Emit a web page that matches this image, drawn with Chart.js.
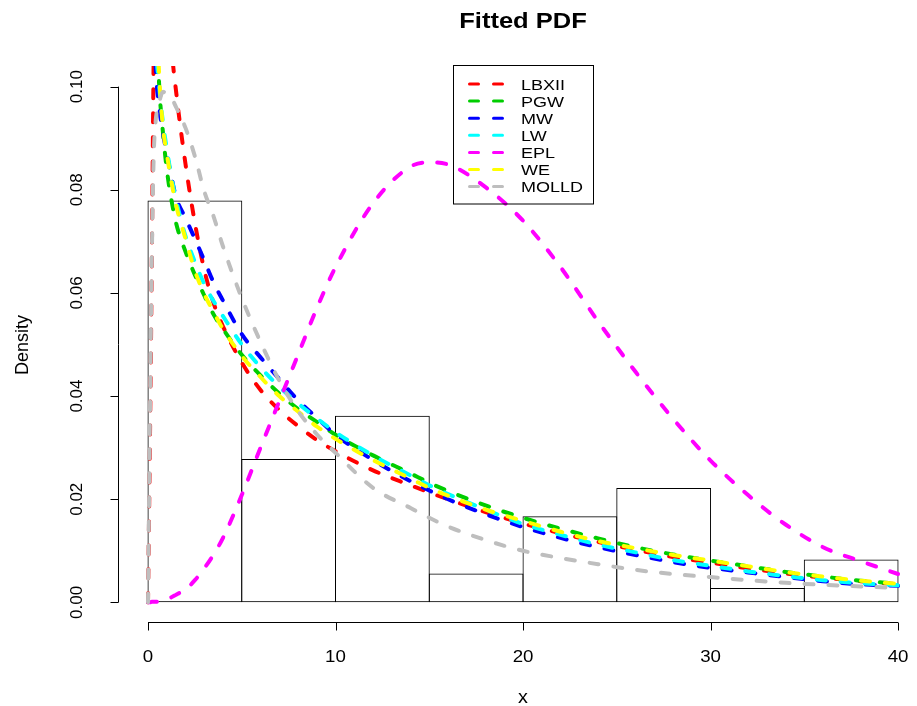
<!DOCTYPE html>
<html>
<head>
<meta charset="utf-8">
<script src="https://cdn.jsdelivr.net/npm/chart.js@4.4.1/dist/chart.umd.min.js"></script>
<style>
  html, body { margin: 0; padding: 0; background: #fff; }
  canvas { display: block; }
</style>
</head>
<body>
<canvas id="pdfChart" width="917" height="706"></canvas>
<script>
// histogram (bin width 5)
const binMids = [2.5, 7.5, 12.5, 17.5, 22.5, 27.5, 32.5, 37.5];
const binDensity = [0.0779, 0.0278, 0.0362, 0.0056, 0.0167, 0.0222, 0.0028, 0.0083];

// x values where the fitted densities were read
const xGrid = [0, 0.1, 0.2, 0.3, 0.4, 0.6, 0.8, 1, 1.25, 1.5, 2, 2.5, 3, 3.5, 4, 5, 6, 7, 8, 9, 10,
  12, 14, 15, 16, 18, 20, 22, 24, 26, 28, 30, 32, 34, 36, 38, 40];

const lbxii = [0, 0.03, 0.065, 0.105, 0.13, 0.145, 0.145, 0.125, 0.108, 0.099, 0.085, 0.0736, 0.0645, 0.058, 0.0535,
  0.0465, 0.0412, 0.0373, 0.0342, 0.0315, 0.0293, 0.0256, 0.0227, 0.0213, 0.0200, 0.0175, 0.0153, 0.0134, 0.0117,
  0.0102, 0.0088, 0.0077, 0.0066, 0.0056, 0.0048, 0.0041, 0.0035];
const pgw = [null, 0.25, 0.17, 0.135, 0.118, 0.1, 0.091, 0.084, 0.078, 0.0735, 0.068, 0.0635, 0.0595, 0.0558, 0.053,
  0.048, 0.044, 0.0405, 0.0375, 0.035, 0.0325, 0.0285, 0.025, 0.0232, 0.0216, 0.0188, 0.0164, 0.0143, 0.0124,
  0.0107, 0.0093, 0.0081, 0.007, 0.0059, 0.005, 0.0042, 0.0036];
const mw = [null, 0.3, 0.17, 0.12, 0.105, 0.096, 0.091, 0.087, 0.0825, 0.0785, 0.0745, 0.0705, 0.0663, 0.062, 0.0585,
  0.052, 0.0475, 0.0433, 0.0392, 0.0358, 0.0325, 0.0276, 0.0235, 0.0217, 0.020, 0.0171, 0.0146, 0.0125, 0.0107,
  0.0092, 0.0078, 0.0067, 0.0058, 0.0049, 0.0041, 0.0035, 0.0032];
const lw = [null, 0.3, 0.18, 0.135, 0.112, 0.1, 0.093, 0.088, 0.0825, 0.078, 0.071, 0.066, 0.0617, 0.0584, 0.0555,
  0.050, 0.0456, 0.0418, 0.0386, 0.0357, 0.0330, 0.0285, 0.0246, 0.0227, 0.0210, 0.0180, 0.0152, 0.0131, 0.0112,
  0.0097, 0.0082, 0.0071, 0.006, 0.0051, 0.0043, 0.0037, 0.0033];
const epl = [0, 0, 0.0001, 0.0001, 0.0001, 0.0002, 0.0004, 0.0007, 0.001, 0.0015, 0.0025, 0.0043, 0.0066, 0.0093, 0.0125,
  0.0208, 0.030, 0.039, 0.048, 0.057, 0.065, 0.0774, 0.0845, 0.0853, 0.0849, 0.0805, 0.074, 0.065, 0.0545,
  0.0447, 0.0356, 0.0275, 0.0208, 0.0151, 0.0107, 0.008, 0.0055];
const we = [null, 0.3, 0.19, 0.14, 0.12, 0.102, 0.092, 0.087, 0.0815, 0.077, 0.0705, 0.0643, 0.0598, 0.0563, 0.053,
  0.0478, 0.0437, 0.0400, 0.0370, 0.0341, 0.0317, 0.0276, 0.0240, 0.0222, 0.0207, 0.018, 0.0158, 0.0137, 0.0119,
  0.0105, 0.0092, 0.0081, 0.0070, 0.0059, 0.0050, 0.0042, 0.0036];
const molld = [0, 0.035, 0.066, 0.086, 0.093, 0.097, 0.099, 0.0985, 0.0978, 0.096, 0.092, 0.0865, 0.0797, 0.0748, 0.069,
  0.059, 0.0505, 0.043, 0.0371, 0.0326, 0.029, 0.0222, 0.0183, 0.0164, 0.0147, 0.0121, 0.0100, 0.0086, 0.0074,
  0.0063, 0.0055, 0.0049, 0.0043, 0.0038, 0.0034, 0.0031, 0.0028];

const seriesNames = ["LBXII", "PGW", "MW", "LW", "EPL", "WE", "MOLLD"];
const seriesValues = [lbxii, pgw, mw, lw, epl, we, molld];
const seriesColors = ["#ff0000", "#00cd00", "#0000ff", "#00ffff", "#ff00ff", "#ffff00", "#bebebe"];

const xTicks = [0, 10, 20, 30, 40];
const yTicks = [0, 0.02, 0.04, 0.06, 0.08, 0.10];
const yTickLabels = ["0.00", "0.02", "0.04", "0.06", "0.08", "0.10"];

const FONT = "'Liberation Sans', Arial, Helvetica, sans-serif";
const DASH = [9, 15];

// text drawn a bit wider, like the reference
function wideText(ctx, str, x, y, sx) {
  ctx.save();
  ctx.translate(x, y);
  ctx.scale(sx, 1);
  ctx.fillText(str, 0, 0);
  ctx.restore();
}

const rStylePlugin = {
  id: "rStyle",
  afterDatasetsDraw(chart) {
    // legend box inside the plot
    const ctx = chart.ctx;
    ctx.save();
    ctx.strokeStyle = "#000";
    ctx.lineWidth = 1;
    ctx.strokeRect(453.5, 65.5, 140, 138.5);
    ctx.font = "15px " + FONT;
    ctx.textAlign = "left";
    ctx.textBaseline = "alphabetic";
    seriesNames.forEach((name, i) => {
      const yy = 84 + i * 17.1;
      ctx.strokeStyle = seriesColors[i];
      ctx.lineWidth = 3;
      ctx.lineCap = "round";
      ctx.setLineDash(DASH);
      ctx.beginPath();
      ctx.moveTo(469.5, yy);
      ctx.lineTo(502.5, yy);
      ctx.stroke();
      ctx.setLineDash([]);
      ctx.fillStyle = "#000";
      wideText(ctx, name, 521, yy + 5.5, 1.2);
    });
    ctx.restore();
  },
  afterDraw(chart) {
    const ctx = chart.ctx;
    const xs = chart.scales.x;
    const ys = chart.scales.y;
    ctx.save();
    ctx.strokeStyle = "#000";
    ctx.fillStyle = "#000";
    ctx.lineWidth = 1;

    // x axis
    const axY = 622.5;
    ctx.beginPath();
    ctx.moveTo(xs.getPixelForValue(xTicks[0]), axY);
    ctx.lineTo(xs.getPixelForValue(xTicks[xTicks.length - 1]), axY);
    xTicks.forEach(t => {
      const px = Math.round(xs.getPixelForValue(t)) + 0.5;
      ctx.moveTo(px, axY);
      ctx.lineTo(px, axY + 8);
    });
    ctx.stroke();
    ctx.font = "17px " + FONT;
    ctx.textAlign = "center";
    ctx.textBaseline = "alphabetic";
    xTicks.forEach(t => {
      wideText(ctx, String(t), xs.getPixelForValue(t), 662, 1.1);
    });

    // y axis
    const axX = 118.5;
    ctx.beginPath();
    ctx.moveTo(axX, ys.getPixelForValue(yTicks[0]));
    ctx.lineTo(axX, ys.getPixelForValue(yTicks[yTicks.length - 1]));
    yTicks.forEach(t => {
      const py = Math.round(ys.getPixelForValue(t)) + 0.5;
      ctx.moveTo(axX, py);
      ctx.lineTo(axX - 8, py);
    });
    ctx.stroke();
    yTicks.forEach((t, i) => {
      ctx.save();
      ctx.translate(82, ys.getPixelForValue(t));
      ctx.rotate(-Math.PI / 2);
      ctx.fillText(yTickLabels[i], 0, 0);
      ctx.restore();
    });

    // axis titles
    ctx.font = "18px " + FONT;
    wideText(ctx, "x", 523, 703, 1.1);
    ctx.save();
    ctx.translate(28, 345);
    ctx.rotate(-Math.PI / 2);
    ctx.fillText("Density", 0, 0);
    ctx.restore();

    // main title
    ctx.font = "bold 22px " + FONT;
    wideText(ctx, "Fitted PDF", 523, 28, 1.16);
    ctx.restore();
  }
};

const lineSets = seriesNames.map((name, i) => ({
  type: "line",
  label: name,
  data: xGrid.map((x, j) => ({ x: x, y: seriesValues[i][j] })),
  borderColor: seriesColors[i],
  borderWidth: 4,
  borderDash: DASH,
  borderCapStyle: "round",
  pointRadius: 0,
  fill: false,
  cubicInterpolationMode: "monotone",
  order: seriesNames.length - i
}));

const histSet = {
  type: "bar",
  label: "hist",
  data: binMids.map((m, i) => ({ x: m, y: binDensity[i] })),
  backgroundColor: "rgba(0,0,0,0)",
  borderColor: "#000",
  borderWidth: 1,
  borderSkipped: false,
  inflateAmount: 0,
  barPercentage: 1.011,
  categoryPercentage: 1,
  order: 20
};

const ctx = document.getElementById("pdfChart").getContext("2d");
const chart = new Chart(ctx, {
  type: "bar",
  data: { datasets: [histSet, ...lineSets] },
  options: {
    responsive: false,
    animation: false,
    layout: { padding: { left: 118, top: 66, right: 0, bottom: 83 } },
    plugins: { legend: { display: false }, tooltip: { enabled: false }, title: { display: false } },
    scales: {
      x: { type: "linear", min: -1.6, max: 41.01, display: false, offset: false },
      y: { type: "linear", min: -0.004, max: 0.104, display: false }
    }
  },
  plugins: [rStylePlugin]
});
</script>
</body>
</html>
